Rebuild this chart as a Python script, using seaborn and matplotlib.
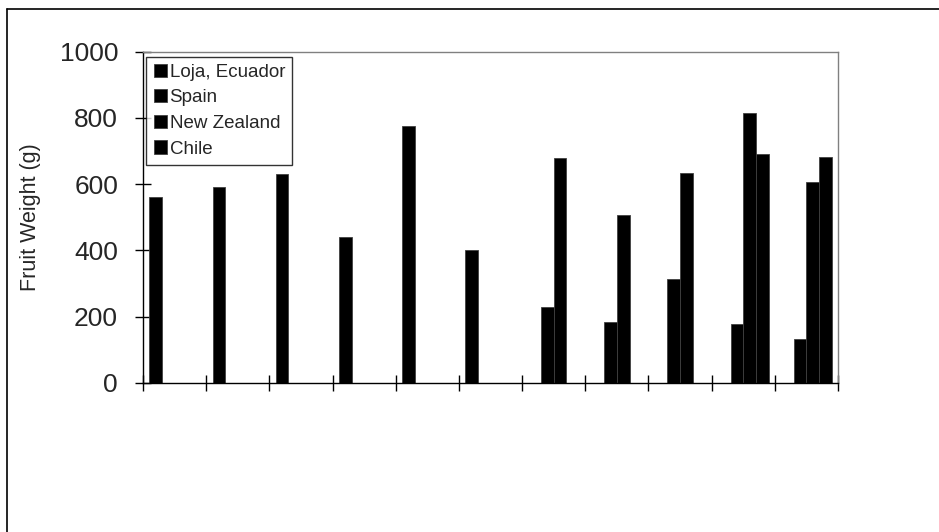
import numpy as np
import pandas as pd
import matplotlib
matplotlib.use("Agg")
import matplotlib.pyplot as plt
from matplotlib.lines import Line2D
import seaborn as sns

# values (NaN = no bar)
groups = [str(i) for i in range(1, 12)]
series = ["Loja, Ecuador", "Spain", "New Zealand", "Chile"]
loja = [562, 590, 630, 439, 775, 401, np.nan, np.nan, np.nan, np.nan, np.nan]
spain = [np.nan] * 6 + [229, 182, 314, 177, 133]
new_zealand = [np.nan] * 6 + [678, 506, 633, 814, 607]
chile = [np.nan] * 9 + [691, 682]

df = pd.DataFrame({
    "group": groups * 4,
    "origin": np.repeat(series, len(groups)),
    "weight": loja + spain + new_zealand + chile,
}).dropna()

sns.set_theme(style="white")
plt.rcParams["font.family"] = ["Liberation Sans", "DejaVu Sans"]

fig = plt.figure(figsize=(9.39, 5.32), dpi=100)
ax = fig.add_axes([143 / 939, 1 - 382.7 / 532, 695 / 939, 331 / 532])

sns.barplot(data=df, x="group", y="weight", hue="origin", order=groups,
            hue_order=series, palette=["black"] * 4, errorbar=None,
            width=0.8, edgecolor="#404040", linewidth=0.6, saturation=1,
            ax=ax)

ax.set_ylim(0, 1000)
ax.set_yticks(range(0, 1001, 200))
ax.set_xlim(-0.5, 10.5)
ax.set_xticks(np.arange(-0.5, 11, 1))
ax.set_xticklabels([])
ax.set_xlabel("")
ax.set_ylabel("Fruit Weight (g)", fontsize=15.5)
ax.yaxis.set_label_coords(-0.147, 0.5)

ax.tick_params(axis="y", direction="inout", length=12, width=1, color="black",
               labelsize=19, pad=12, left=True)
ax.tick_params(axis="x", direction="inout", length=12, width=1, color="black",
               bottom=True)
for side in ["left", "bottom"]:
    ax.spines[side].set_color("black")
    ax.spines[side].set_linewidth(1)
for side in ["top", "right"]:
    ax.spines[side].set_color("#808080")
    ax.spines[side].set_linewidth(1)

leg = ax.legend(loc="upper left", bbox_to_anchor=(0.005, 0.985),
                borderaxespad=0, fontsize=13.5, frameon=True, fancybox=False,
                handlelength=0.7, handleheight=0.7, handletextpad=0.15,
                labelspacing=0.45, borderpad=0.38, title=None)
leg.get_frame().set_edgecolor("black")
leg.get_frame().set_linewidth(1)

# thin border around the chart area (clipped at right/bottom in the reference)
fig.add_artist(Line2D([7 / 939, 1], [1 - 9 / 532] * 2, color="black", lw=1.2,
                      transform=fig.transFigure))
fig.add_artist(Line2D([7 / 939] * 2, [0, 1 - 9 / 532], color="black", lw=1.2,
                      transform=fig.transFigure))

fig.savefig("out.png", dpi=100)
